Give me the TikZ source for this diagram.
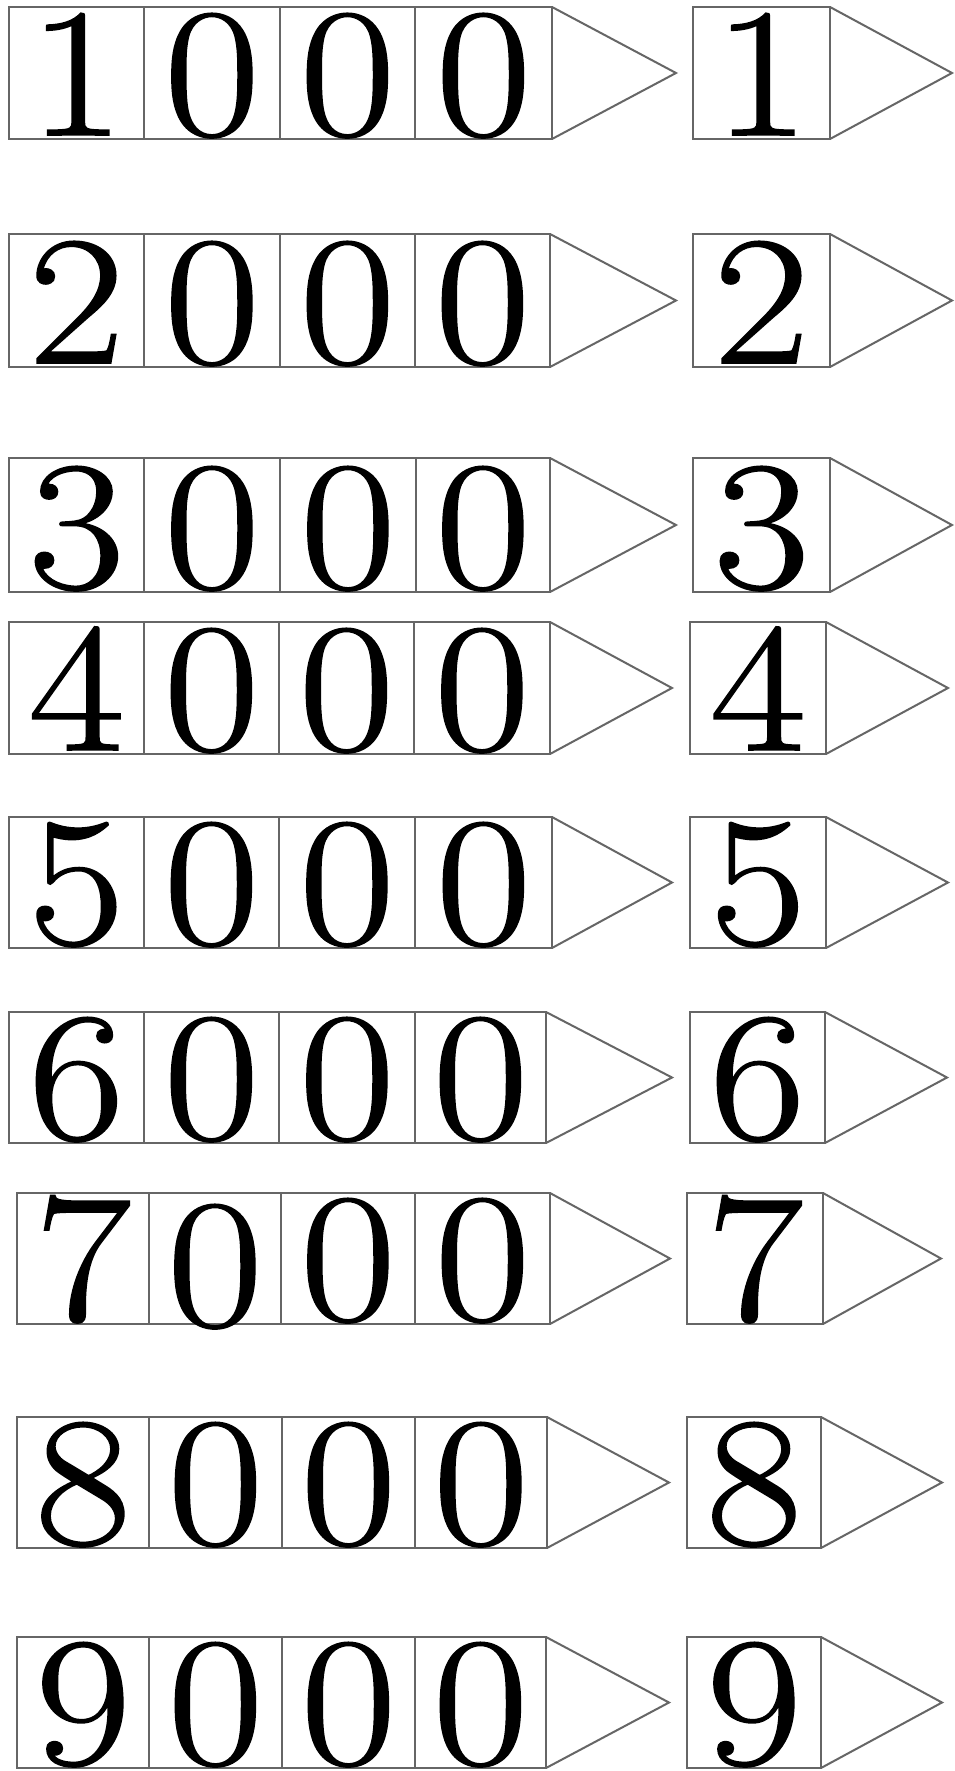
\documentclass[tikz,border=0pt]{standalone}
\usepackage{fontspec}
\setmainfont{Latin Modern Roman}
\newfontfamily\digitfont{Latin Modern Roman}[RawFeature={embolden=1}]
\tikzset{
  cellline/.style={draw=black!60, line width=2pt, line join=miter},
  digit/.style={inner sep=0pt, anchor=base, text height=122pt, text depth=3pt,
    font=\digitfont\fontsize{184}{184}\selectfont}
}
\newcommand{\dg}[1]{\scalebox{1.13}[1]{#1}}
\begin{document}
\begin{tikzpicture}[x=1pt,y=-1pt]
\useasboundingbox (0,0) rectangle (954,1771);
\fill[white] (0,0) rectangle (954,1771);
\foreach \n/\t/\b/\l/\a/\bb/\c/\r/\tip/\sl/\sr/\st/\off in {
  1/7/139/9/144/280/415/552/676/693/830/952/0,
  2/234/367/9/144/280/415/550/676/693/830/952/0,
  3/458/592/9/144/280/416/550/676/693/830/952/0,
  4/622/754/9/144/279/414/550/672/690/826/948/0,
  5/817/948/9/144/279/415/552/672/690/826/948/0,
  6/1012/1143/9/144/279/415/546/672/690/825/947/0,
  7/1193/1324/17/149/281/415/550/670/687/823/941/6,
  8/1417/1548/17/149/282/415/547/669/687/821/942/0,
  9/1637/1768/17/149/282/415/546/669/687/821/942/0}{
  % big arrow: four cells and a head
  \coordinate (TL\n) at (\l,\t);
  \coordinate (BR\n) at (\r,\b);
  \coordinate (H\n) at (\tip,{(\t+\b)/2});
  \draw[cellline] (TL\n) rectangle (BR\n);
  \draw[cellline] (\a,\t) -- (\a,\b) (\bb,\t) -- (\bb,\b) (\c,\t) -- (\c,\b);
  \draw[cellline] (\r,\t) -- (H\n) -- (\r,\b);
  % small arrow: one cell and a head
  \coordinate (sTL\n) at (\sl,\t);
  \coordinate (sBR\n) at (\sr,\b);
  \coordinate (sH\n) at (\st,{(\t+\b)/2});
  \draw[cellline] (sTL\n) rectangle (sBR\n);
  \draw[cellline] (\sr,\t) -- (sH\n) -- (\sr,\b);
  % digits
  \node[digit] (d\n a) at ({(\l+\a)/2},\b-4) {\dg{\n}};
  \node[digit] (d\n b) at ({(\a+\bb)/2},\b-4+\off) {\dg{0}};
  \node[digit] (d\n c) at ({(\bb+\c)/2},\b-4) {\dg{0}};
  \node[digit] (d\n d) at ({(\c+\r)/2},\b-4) {\dg{0}};
  \node[digit] (s\n) at ({(\sl+\sr)/2},\b-4) {\dg{\n}};
}
\end{tikzpicture}
\end{document}
